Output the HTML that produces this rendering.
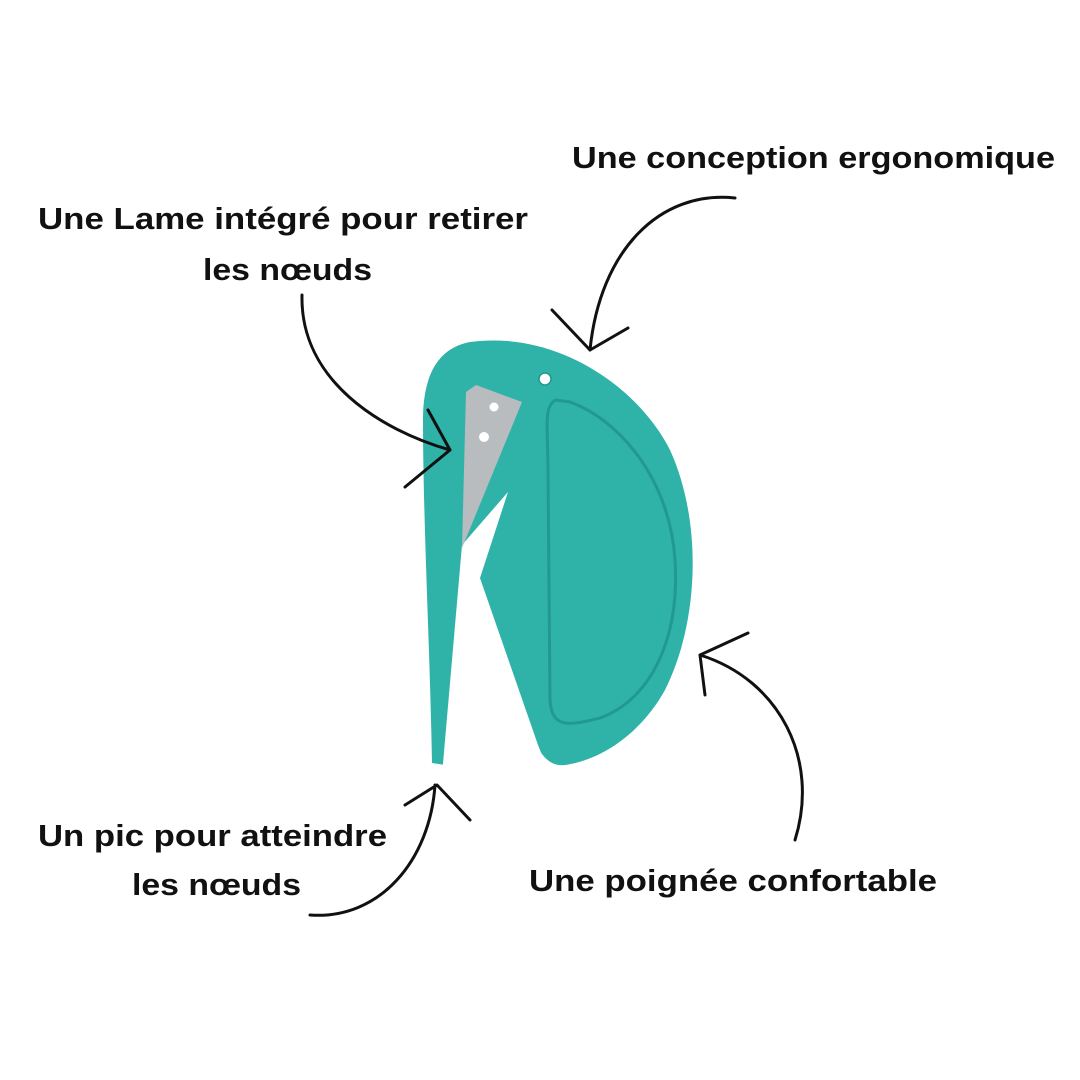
<!DOCTYPE html>
<html><head><meta charset="utf-8"><style>
html,body{margin:0;padding:0;background:#fff;}
svg{display:block;}
text{font-family:"Liberation Sans",sans-serif;font-weight:bold;font-size:31px;fill:#111;}
</style></head><body>
<svg width="1080" height="1080" viewBox="0 0 1080 1080">
<rect width="1080" height="1080" fill="#fff"/>
<path d="M432,763 C430,650 423,520 423,420 C423,375 438,348 470,342 C560,330 640,390 670,450 C702,520 700,620 665,690 C640,735 600,760 565,765 C550,767 540,755 535,740 L445,765 Z" fill="#2fb3a9"/>
<polygon points="462,545 508,492 480,578 538,745 550,775 442,775" fill="#fff"/>
<polygon points="466,392 476,385 522,402 462,548" fill="#b8bcbf"/>
<circle cx="494" cy="407" r="4.5" fill="#fff"/><circle cx="484" cy="437" r="5" fill="#fff"/>
<path d="M556,400 C543,405 548,430 548,470 L550,700 C552,730 570,725 600,718 C650,700 680,640 675,560 C670,480 620,420 570,402 Z" fill="none" stroke="#22998f" stroke-width="3"/>
<circle cx="545" cy="379" r="6" fill="#fff" stroke="#22998f" stroke-width="1.5"/>
<g fill="none" stroke="#111" stroke-width="3" stroke-linecap="round" stroke-linejoin="round">
<path d="M735,198 C660,190 600,250 590,350"/><path d="M552,310 L590,350 L628,328"/>
<path d="M302,295 C300,380 380,430 450,450"/><path d="M428,410 L450,450 L405,487"/>
<path d="M310,915 C380,920 430,860 435,785"/><path d="M405,805 L437,785 L470,820"/>
<path d="M795,840 C820,760 780,680 700,655"/><path d="M748,633 L700,655 L705,695"/>
</g>
<text x="572" y="168" textLength="483" lengthAdjust="spacingAndGlyphs">Une conception ergonomique</text>
<text x="38" y="229" textLength="490" lengthAdjust="spacingAndGlyphs">Une Lame intégré pour retirer</text>
<text x="203" y="280" textLength="169" lengthAdjust="spacingAndGlyphs">les nœuds</text>
<text x="38" y="846" textLength="349" lengthAdjust="spacingAndGlyphs">Un pic pour atteindre</text>
<text x="132" y="895" textLength="169" lengthAdjust="spacingAndGlyphs">les nœuds</text>
<text x="529" y="891" textLength="408" lengthAdjust="spacingAndGlyphs">Une poignée confortable</text>
</svg>
</body></html>
